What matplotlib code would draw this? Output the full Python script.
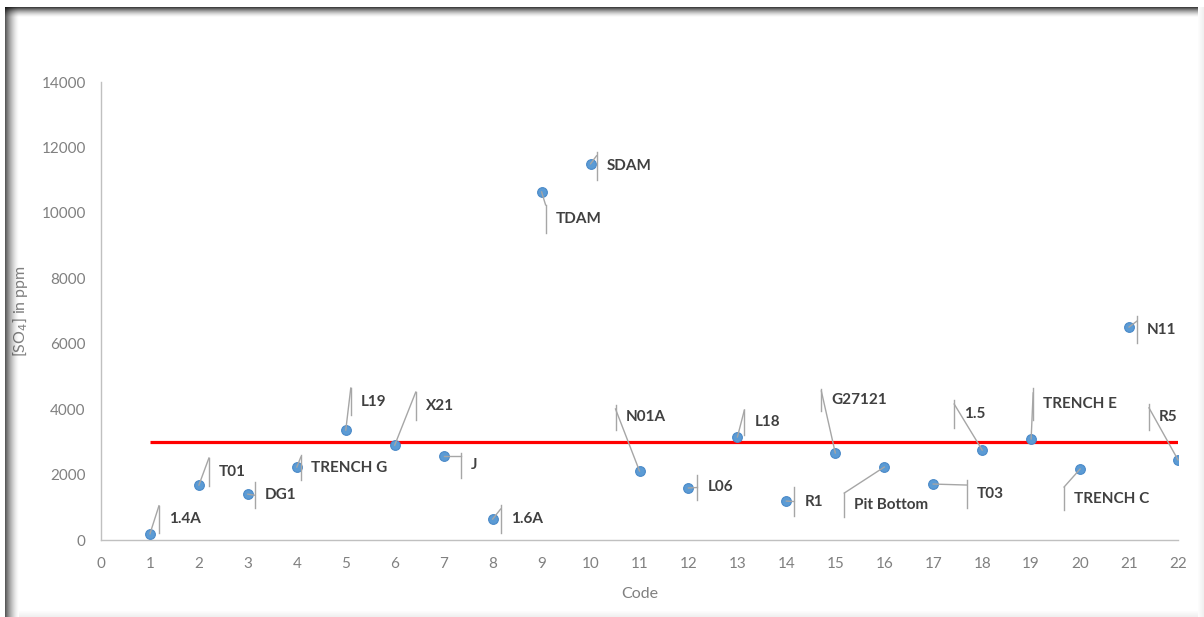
import matplotlib
matplotlib.use("Agg")
import matplotlib.pyplot as plt
from matplotlib.lines import Line2D

plt.rcParams['font.family'] = ['Lato', 'DejaVu Sans']

# Sulfate concentration per sampling code
codes = list(range(1, 23))
so4_ppm = [190, 1680, 1400, 2230, 3360, 2900, 2570, 640, 10640, 11500, 2110,
           1590, 3150, 1190, 2660, 2230, 1710, 2750, 3090, 2170, 6510, 2450]
site_names = ["1.4A", "T01", "DG1", "TRENCH G", "L19", "X21", "J", "1.6A",
              "TDAM", "SDAM", "N01A", "L06", "L18", "R1", "G27121",
              "Pit Bottom", "T03", "1.5", "TRENCH E", "TRENCH C", "N11", "R5"]
limit_ppm = 3000

x_ticks = list(range(0, 23))
y_ticks = [0, 2000, 4000, 6000, 8000, 10000, 12000, 14000]

# Callout geometry in pixels relative to each point (x right, y down):
# (bar x offset, bar top, bar bottom, leader end y offset or None for bar middle)
callouts = [
    (9, -28, -1, -28), (10, -27, 1, -27), (7, -12, 14, None), (4, -12, 13, -10),
    (5, -42, -15, -42), (21, -53, -25, -53), (17, -3, 22, 0), (8, -14, 14, -10),
    (4, 13, 41, 13), (6, -12, 16, -8), (-24, -66, -41, -62), (9, -13, 12, None),
    (7, -27, -2, -27), (8, -14, 15, None), (-14, -64, -42, -62),
    (-40, 26, 50, 26), (34, -4, 24, 1), (-28, -50, -22, -46), (2, -51, -19, -46),
    (-16, 18, 41, 18), (8, -11, 16, -6), (-29, -56, -30, -52),
]

W, H, DPI = 1204, 617, 100
fig = plt.figure(figsize=(W / DPI, H / DPI), dpi=DPI, facecolor="white")

# Soft shaded frame around the chart area
for i in range(10):
    a = 0.75 * (1 - i / 10) ** 1.6
    fig.add_artist(Line2D([5 / W, 1197 / W], [1 - (7 + i) / H] * 2,
                          transform=fig.transFigure, color="black", alpha=a, lw=0.72))
for i in range(14):
    a = 0.65 * (1 - i / 14) ** 1.6
    fig.add_artist(Line2D([(5 + i) / W] * 2, [1 - 7 / H, 0],
                          transform=fig.transFigure, color="black", alpha=a, lw=0.72))
for i in range(7):
    a = 0.07 * (1 - i / 7)
    fig.add_artist(Line2D([(1203.5 - i) / W] * 2, [0, 1 - 7 / H],
                          transform=fig.transFigure, color="black", alpha=a, lw=0.72))
    fig.add_artist(Line2D([19 / W, 1197 / W], [(i + 0.5) / H] * 2,
                          transform=fig.transFigure, color="black", alpha=a, lw=0.72))

ax = fig.add_axes([101 / W, (H - 540) / H, 1077 / W, 458 / H])
ax.set_facecolor("none")
ax.set_xlim(0, 22)
ax.set_ylim(0, 14000)
ax.set_xticks(x_ticks)
ax.set_yticks(y_ticks)
ax.tick_params(length=0, labelsize=11, colors="#808080")
ax.tick_params(axis="x", pad=12)
ax.tick_params(axis="y", pad=11)
for s in ("top", "right"):
    ax.spines[s].set_visible(False)
for s in ("left", "bottom"):
    ax.spines[s].set_color("#c0c0c0")
    ax.spines[s].set_linewidth(1.0)

ax.set_xlabel("Code", fontsize=11.5, color="#808080", labelpad=12)
ax.set_ylabel(r"[SO$_4$] in ppm", fontsize=11.5, color="#808080", labelpad=8)

ax.plot([codes[0], codes[-1]], [limit_ppm, limit_ppm], color="#ff0000", lw=2.3,
        solid_capstyle="butt", zorder=2)
ax.plot(codes, so4_ppm, linestyle="none", marker="o", markersize=7,
        markerfacecolor="#5b9bd5", markeredgecolor="#4a89c8", markeredgewidth=0.8,
        zorder=4)

fig.canvas.draw()
lead_kw = dict(color="#a6a6a6", lw=1.0, transform=None, zorder=3)
for x, y, name, (bdx, btop, bbot, lead) in zip(codes, so4_ppm, site_names, callouts):
    px, py = ax.transData.transform((x, y))
    bx = px + bdx
    fig.add_artist(Line2D([bx, bx], [py - btop, py - bbot], **lead_kw))
    ly = (btop + bbot) / 2 if lead is None else lead
    fig.add_artist(Line2D([px, bx], [py, py - ly], **lead_kw))
    fig.text((bx + 10) / W, (py - (btop + bbot) / 2) / H, name, fontsize=11,
             fontweight="bold", color="#404040", ha="left", va="center")

fig.savefig("out.png", dpi=DPI, facecolor="white")
